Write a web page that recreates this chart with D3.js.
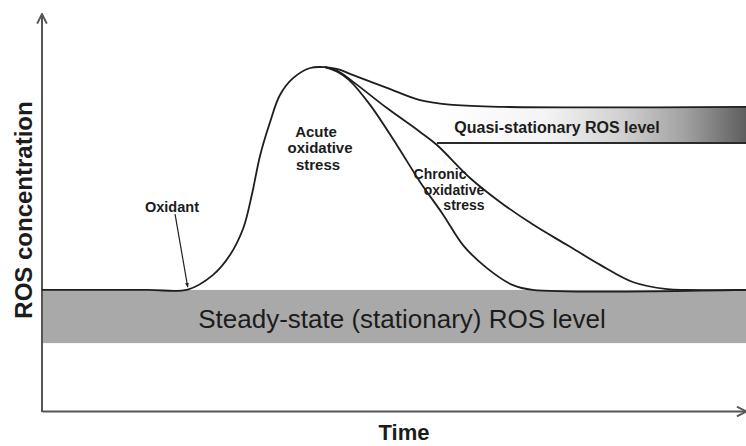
<!DOCTYPE html>
<html>
<head>
<meta charset="utf-8">
<script src="https://cdn.jsdelivr.net/npm/d3@7"></script>
<style>
  body { margin: 0; background: #fff; }
  text { font-family: "Liberation Sans", Arial, sans-serif; fill: #1c1c1c; }
  .lbl { font-weight: bold; }
</style>
</head>
<body>
<div id="chart"></div>
<script>
const WIDTH = 746, HEIGHT = 446;

// schematic values, time 0-100 / concentration 0-100
const baseline = [[0, 30.5], [15, 30.5], [20.7, 30.6]];
const rise = [[20.7, 30.6], [24.3, 34.3], [26.7, 39.3], [28.6, 46.1], [29.8, 54.4], [31.0, 64.5],
  [32.4, 72.8], [33.8, 79.6], [35.7, 83.9], [38.1, 86.4], [40.2, 86.6]];
const quasiFall = [[40.2, 86.6], [42.0, 86.1], [44.2, 84.6], [49.0, 81.4], [53.7, 78.3],
  [58.4, 77.1], [65.5, 76.6], [100, 76.6]];
const chronicFall = [[40.2, 86.6], [42.0, 85.6], [44.2, 82.9], [49.0, 76.3], [53.7, 70.3],
  [56.1, 67.0], [60.8, 58.7], [65.1, 52.6], [69.8, 46.9], [74.6, 41.8], [79.3, 36.8],
  [83.9, 32.5], [88.8, 30.7], [91.6, 30.5], [100, 30.5]];
const acuteFall = [[40.2, 86.6], [42.0, 85.4], [43.6, 83.4], [46.6, 77.1], [50.4, 67.0],
  [53.7, 57.7], [57.0, 49.4], [59.8, 41.8], [63.2, 36.0], [66.9, 31.7], [69.7, 30.5], [100, 30.5]];
const steadyBand = [17.1, 30.5];   // [bottom, top]
const quasiBand = [67.5, 76.6];
const quasiStart = 56.1;
const oxidantArrow = [[18.9, 49.6], [20.7, 31.2]];

const svg = d3.select("#chart").append("svg")
  .attr("width", WIDTH).attr("height", HEIGHT);

const x = d3.scaleLinear().domain([0, 100]).range([42, 746]);
const y = d3.scaleLinear().domain([0, 100]).range([411, 14]);

const defs = svg.append("defs");
const grad = defs.append("linearGradient").attr("id", "quasiGrad")
  .attr("x1", "0%").attr("x2", "100%").attr("y1", "0%").attr("y2", "0%");
[[0, "#ffffff"], [0.35, "#f4f4f4"], [0.6, "#d0d0d0"], [0.8, "#a2a2a2"], [1, "#5e5e5e"]].forEach(([o, c]) =>
  grad.append("stop").attr("offset", o).attr("stop-color", c));

defs.append("marker").attr("id", "axArrow")
  .attr("viewBox", "0 0 10 10").attr("refX", 9).attr("refY", 5)
  .attr("markerWidth", 6).attr("markerHeight", 6).attr("orient", "auto")
  .append("path").attr("d", "M1,1 L9,5 L1,9").attr("fill", "none")
  .attr("stroke", "#555").attr("stroke-width", 1.6);

defs.append("marker").attr("id", "oxArrow")
  .attr("viewBox", "0 0 10 10").attr("refX", 9).attr("refY", 5)
  .attr("markerWidth", 4).attr("markerHeight", 4).attr("orient", "auto")
  .append("path").attr("d", "M0,1 L10,5 L0,9 Z").attr("fill", "#222");

// steady-state band
svg.append("rect")
  .attr("x", x(0)).attr("width", x(100) - x(0))
  .attr("y", y(steadyBand[1])).attr("height", y(steadyBand[0]) - y(steadyBand[1]))
  .attr("fill", "#a9a9a9");

// quasi-stationary band
svg.append("rect")
  .attr("x", x(quasiStart)).attr("width", x(100) - x(quasiStart))
  .attr("y", y(quasiBand[1])).attr("height", y(quasiBand[0]) - y(quasiBand[1]))
  .attr("fill", "url(#quasiGrad)");
svg.append("line")
  .attr("x1", x(quasiStart)).attr("x2", x(100))
  .attr("y1", y(quasiBand[0])).attr("y2", y(quasiBand[0]))
  .attr("stroke", "#2a2a2a").attr("stroke-width", 2);

// axes
svg.append("g").attr("transform", `translate(0,${y(0)})`)
  .call(d3.axisBottom(x).ticks(0).tickSizeOuter(0))
  .call(g => g.select(".domain").attr("stroke", "#555").attr("stroke-width", 2)
    .attr("marker-end", "url(#axArrow)"));
svg.append("g").attr("transform", `translate(${x(0)},0)`)
  .call(d3.axisLeft(y).ticks(0).tickSizeOuter(0))
  .call(g => g.select(".domain").attr("stroke", "#555").attr("stroke-width", 2)
    .attr("d", `M0,${y(0) + 1}V${y(100)}`)
    .attr("marker-end", "url(#axArrow)"));

// curves
const line = d3.line().x(d => x(d[0])).y(d => y(d[1])).curve(d3.curveCatmullRom.alpha(0.5));
const curves = [baseline.concat(rise.slice(1)), quasiFall, chronicFall, acuteFall];
svg.selectAll(".curve").data(curves).join("path")
  .attr("class", "curve")
  .attr("d", line)
  .attr("fill", "none").attr("stroke", "#1e1e1e").attr("stroke-width", 1.8);

// oxidant pointer
svg.append("line")
  .attr("x1", x(oxidantArrow[0][0])).attr("y1", y(oxidantArrow[0][1]))
  .attr("x2", x(oxidantArrow[1][0])).attr("y2", y(oxidantArrow[1][1]))
  .attr("stroke", "#222").attr("stroke-width", 1.2)
  .attr("marker-end", "url(#oxArrow)");

// labels
svg.append("text").attr("class", "lbl")
  .attr("transform", "translate(32,210) rotate(-90)")
  .attr("text-anchor", "middle").style("font-size", "24px")
  .text("ROS concentration");

svg.append("text").attr("class", "lbl")
  .attr("x", 404).attr("y", 440).attr("text-anchor", "middle")
  .style("font-size", "22px").text("Time");

svg.append("text")
  .attr("x", 402).attr("y", 328).attr("text-anchor", "middle")
  .style("font-size", "26px").text("Steady-state (stationary) ROS level");

svg.append("text").attr("class", "lbl")
  .attr("x", 557).attr("y", 133).attr("text-anchor", "middle")
  .style("font-size", "16px").text("Quasi-stationary ROS level");

svg.append("text").attr("class", "lbl")
  .attr("x", 172).attr("y", 212).attr("text-anchor", "middle")
  .style("font-size", "14.5px").text("Oxidant");

[["Acute", 316, 137], ["oxidative", 320, 153], ["stress", 318, 170]].forEach(([t, tx, ty]) =>
  svg.append("text").attr("class", "lbl")
    .attr("x", tx).attr("y", ty).attr("text-anchor", "middle")
    .style("font-size", "15px").text(t));

[["Chronic", 440, 179], ["oxidative", 454, 195], ["stress", 464, 210]].forEach(([t, tx, ty]) =>
  svg.append("text").attr("class", "lbl")
    .attr("x", tx).attr("y", ty).attr("text-anchor", "middle")
    .style("font-size", "14px").text(t));
</script>
</body>
</html>
